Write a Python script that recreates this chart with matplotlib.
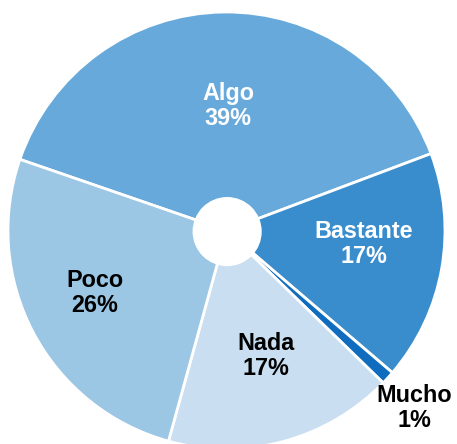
import matplotlib.pyplot as plt

# Respuestas de la encuesta (porcentaje)
categorias = ['Algo', 'Bastante', 'Mucho', 'Nada', 'Poco']
porcentajes = [39, 17, 1, 17, 26]
colores = ['#66a9da', '#3a8dcd', '#106cbf', '#c9dff1', '#9bc6e4']

plt.rcParams['font.family'] = ['Liberation Sans', 'DejaVu Sans']

fig = plt.figure(figsize=(4.57, 4.44), dpi=100)
ax = fig.add_axes([0, 0, 1, 1])

wedges, _ = ax.pie(porcentajes, colors=colores, startangle=161,
                   counterclock=False, radius=1,
                   wedgeprops=dict(edgecolor='white', linewidth=2))

# hueco blanco en el centro
ax.add_patch(plt.Circle((0.003, -0.005), 0.155, color='white', zorder=3))

# posiciones de las etiquetas y color del texto
pos = [(0.007, 0.57), (0.627, -0.062), (0.858, -0.812), (0.18, -0.574), (-0.604, -0.286)]
col_txt = ['white', 'white', 'black', 'black', 'black']
for cat, p, (x, y), c in zip(categorias, porcentajes, pos, col_txt):
    ax.text(x, y, f'{cat}\n{p}%', ha='center', va='center', fontsize=16.8,
            fontweight='bold', color=c, linespacing=1.15, zorder=4)

ax.set_aspect('auto')
ax.set_xlim(-226.5 / 218.5, (457 - 226.5) / 218.5)
ax.set_ylim(-(444 - 230.5) / 218.5, 230.5 / 218.5)
ax.axis('off')

fig.savefig('out.png', dpi=100)
